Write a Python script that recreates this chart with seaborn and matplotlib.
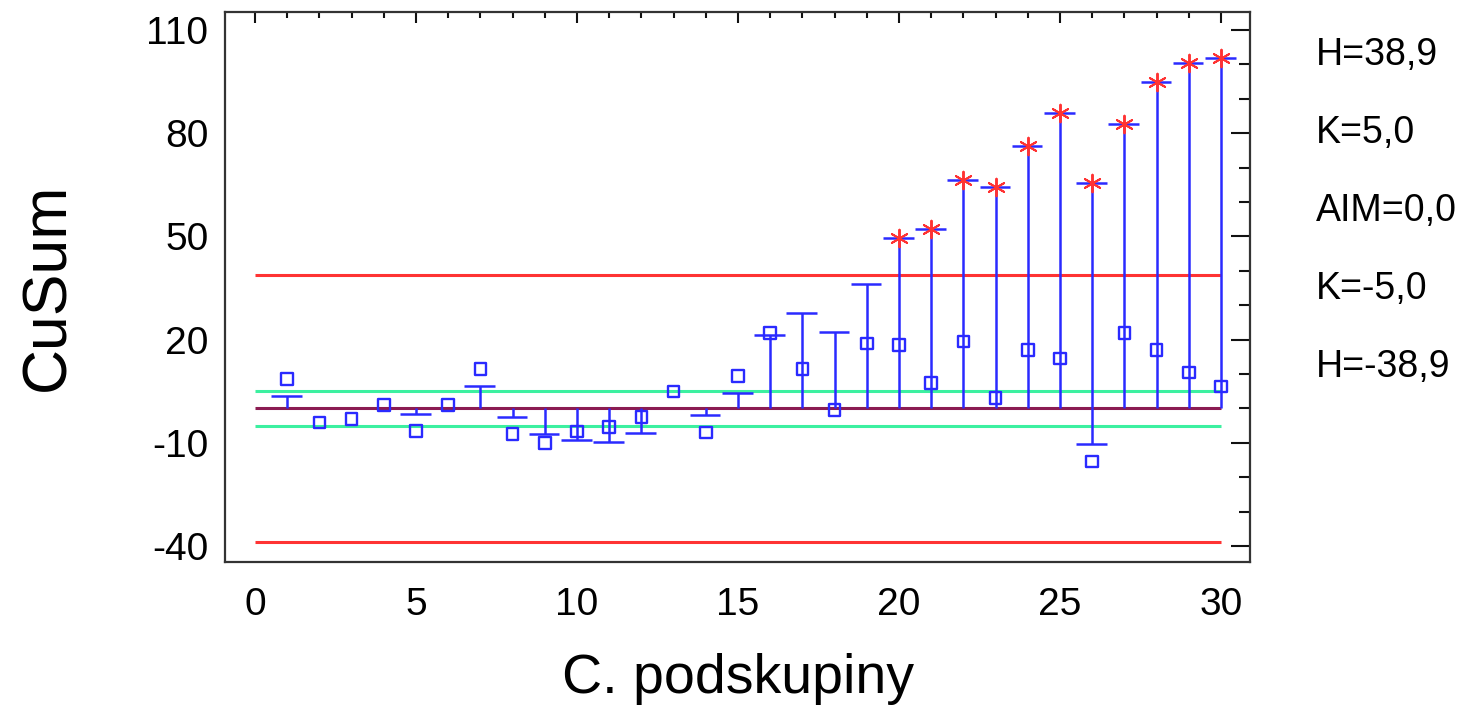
import numpy as np
import pandas as pd
import matplotlib
matplotlib.use("Agg")
import matplotlib.pyplot as plt
from matplotlib.ticker import MultipleLocator, FixedLocator
import seaborn as sns

# Subgroup deviations from the aim value
subgroup = list(range(1, 31))
deviation = [8.5, -4.1, -3.1, 0.9, -6.5, 0.9, 11.5, -7.5, -10.0, -6.7,
             -5.5, -2.6, 4.9, -7.0, 9.4, 21.9, 11.5, -0.5, 18.9, 18.4,
             7.4, 19.4, 3.0, 17.0, 14.5, -15.5, 21.9, 17.0, 10.4, 6.4]
# Upper and lower cumulative sums
cusum_hi = [3.5, 0, 0, 0, 0, 0, 6.5, 0, 0, 0,
            0, 0, 0, 0, 4.4, 21.3, 27.8, 22.3, 36.2, 49.6,
            52.0, 66.4, 64.4, 76.4, 85.9, 65.4, 82.6, 94.8, 100.3, 102.0]
cusum_lo = [0, 0, 0, 0, -1.5, 0, 0, -2.5, -7.5, -9.2,
            -9.7, -7.3, 0, -2.0, 0, 0, 0, 0, 0, 0,
            0, 0, 0, 0, 0, -10.5, 0, 0, 0, 0]

H = 38.9
K = 5.0
AIM = 0.0
side_labels = ["H=38,9", "K=5,0", "AIM=0,0", "K=-5,0", "H=-38,9"]
y_ticks = [-40, -10, 20, 50, 80, 110]
x_ticks = [0, 5, 10, 15, 20, 25, 30]

sns.set_style("white")
plt.rcParams["font.family"] = ["Liberation Sans", "DejaVu Sans"]
plt.rcParams["axes.unicode_minus"] = False
plt.rcParams["text.color"] = "black"
plt.rcParams["axes.labelcolor"] = "black"
plt.rcParams["xtick.color"] = "black"
plt.rcParams["ytick.color"] = "black"

BLUE = "#2a2aff"
RED = "#ff3333"
GREEN = "#3cf0a0"
MAROON = "#8b1c52"

df = pd.DataFrame({"subgroup": subgroup, "deviation": deviation,
                   "hi": cusum_hi, "lo": cusum_lo})

fig = plt.figure(figsize=(14.62, 7.12), dpi=100)
ax = fig.add_axes([0.154, 0.211, 0.701, 0.772])

x0, x1 = 0, 30
# Decision limits, reference values and aim line
ax.hlines([H, -H], x0, x1, color=RED, lw=2.2, zorder=2)
ax.hlines([K, -K], x0, x1, color=GREEN, lw=2.2, zorder=2)
ax.hlines([AIM], x0, x1, color=MAROON, lw=2.2, zorder=3)

# Upper cusum stems with caps
hi = df[df["hi"] > 0]
ax.vlines(hi["subgroup"], 0, hi["hi"], color=BLUE, lw=1.8, zorder=4)
ax.hlines(hi["hi"], hi["subgroup"] - 0.5, hi["subgroup"] + 0.45, color=BLUE, lw=1.8, zorder=4)
# Lower cusum stems with caps
lo = df[df["lo"] < 0]
ax.vlines(lo["subgroup"], 0, lo["lo"], color=BLUE, lw=1.8, zorder=4)
ax.hlines(lo["lo"], lo["subgroup"] - 0.5, lo["subgroup"] + 0.45, color=BLUE, lw=1.8, zorder=4)

# Subgroup deviations as open squares
sns.scatterplot(data=df, x="subgroup", y="deviation", marker="s", s=70,
                facecolor="none", edgecolor=BLUE, linewidth=1.7, ax=ax, zorder=5)

# Out-of-control signals
sig = df[df["hi"] > H]
sns.scatterplot(data=sig, x="subgroup", y="hi", marker=(6, 2, 0), s=160,
                color=RED, edgecolor=RED, linewidth=1.4, ax=ax, zorder=6)

ax.set_xlim(-0.93, 30.9)
ax.set_ylim(-44.6, 115.2)
ax.xaxis.set_major_locator(FixedLocator(x_ticks))
ax.xaxis.set_minor_locator(MultipleLocator(1))
ax.yaxis.set_major_locator(FixedLocator(y_ticks))
ax.yaxis.set_minor_locator(MultipleLocator(10))

ax.tick_params(axis="both", which="both", direction="in", top=True, right=True,
               color="#111111", width=1.5)
ax.tick_params(axis="y", which="major", length=14, pad=12, labelsize=28)
ax.tick_params(axis="y", which="minor", length=8)
ax.tick_params(axis="x", which="major", length=8, pad=18, labelsize=28)
ax.tick_params(axis="x", which="minor", length=4.5)
for sp in ax.spines.values():
    sp.set_color("#333333")
    sp.set_linewidth(1.6)

ax.set_xlabel("C. podskupiny", fontsize=40, labelpad=22)
ax.set_ylabel("CuSum", fontsize=45, labelpad=50)

for i, txt in enumerate(side_labels):
    fig.text(0.9, 1 - (55 + 78 * i) / 712, txt, fontsize=27,
             ha="left", va="center", color="black")

fig.savefig("out.png", dpi=100)
